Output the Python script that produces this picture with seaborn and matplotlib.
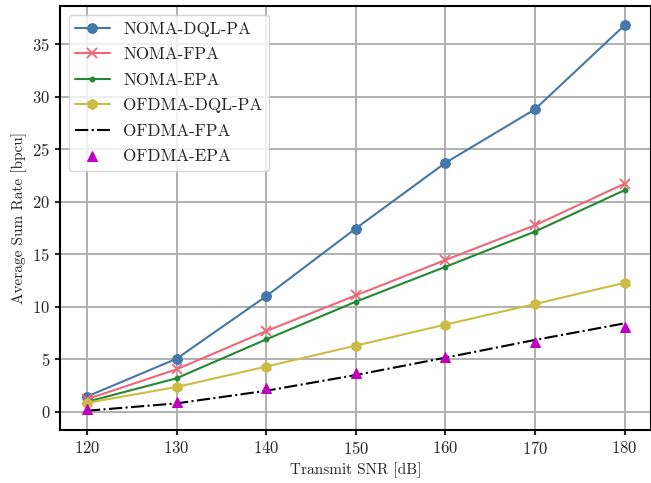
import matplotlib
matplotlib.use("Agg")
import matplotlib.pyplot as plt
import seaborn as sns
import pandas as pd

# Transmit SNR sweep and average sum rate of each scheme
snr_db = [120, 130, 140, 150, 160, 170, 180]
noma_dql_pa = [1.45, 5.05, 11.0, 17.45, 23.7, 28.8, 36.8]
noma_fpa = [1.2, 4.04, 7.68, 11.08, 14.45, 17.76, 21.72]
noma_epa = [0.95, 3.19, 6.89, 10.48, 13.8, 17.16, 21.1]
ofdma_dql_pa = [0.85, 2.36, 4.3, 6.3, 8.3, 10.26, 12.28]
ofdma_fpa = [0.1, 0.8, 2.0, 3.5, 5.15, 6.84, 8.42]
ofdma_epa = [0.22, 0.97, 2.25, 3.72, 5.2, 6.6, 8.05]

sns.set_theme(style="ticks")
plt.rcParams.update({
    "font.family": "serif",
    "font.serif": ["cmr10", "DejaVu Serif"],
    "mathtext.fontset": "cm",
    "axes.formatter.use_mathtext": True,
    "axes.unicode_minus": False,
    "axes.linewidth": 1.5,
    "xtick.major.width": 1.5,
    "ytick.major.width": 1.5,
    "xtick.major.size": 3.5,
    "ytick.major.size": 3.5,
})

fig = plt.figure(figsize=(6.51, 4.83), dpi=100)
ax = fig.add_axes([0.0922, 0.1097, 0.9085, 0.8779])

blue, red, green, yellow, purple = "#4477AA", "#EE6677", "#228833", "#CCBB44", "#BF00BF"
series = [
    ("NOMA-DQL-PA", noma_dql_pa, dict(color=blue, marker="o", markersize=7, mec=blue, lw=1.5)),
    ("NOMA-FPA", noma_fpa, dict(color=red, marker="x", markersize=7, mec=red, mew=1.3, lw=1.5)),
    ("NOMA-EPA", noma_epa, dict(color=green, marker=".", markersize=7, mec=green, lw=1.5)),
    ("OFDMA-DQL-PA", ofdma_dql_pa, dict(color=yellow, marker="h", markersize=7.5, mec=yellow, lw=1.5)),
    ("OFDMA-FPA", ofdma_fpa, dict(color="black", linestyle="-.", lw=1.5)),
    ("OFDMA-EPA", ofdma_epa, dict(color=purple, marker="^", markersize=7.5, mec=purple,
                                  linestyle="none")),
]

for name, values, style in series:
    df = pd.DataFrame({"snr": snr_db, "rate": values})
    sns.lineplot(data=df, x="snr", y="rate", ax=ax, label=name, **style)

ax.set_xticks(snr_db)
ax.set_yticks([0, 5, 10, 15, 20, 25, 30, 35])
ax.tick_params(labelsize=12)
ax.grid(True, color="#b0b0b0", lw=1.4)
ax.set_xlabel("Transmit SNR [dB]", fontsize=11)
ax.set_ylabel("Average Sum Rate [bpcu]", fontsize=11)
for s in ax.spines.values():
    s.set_color("black")

leg = ax.legend(loc="upper left", fontsize=12.3, frameon=True, fancybox=True,
                framealpha=0.8, edgecolor="#cccccc", labelspacing=0.6)

fig.savefig("out.png", dpi=100)
